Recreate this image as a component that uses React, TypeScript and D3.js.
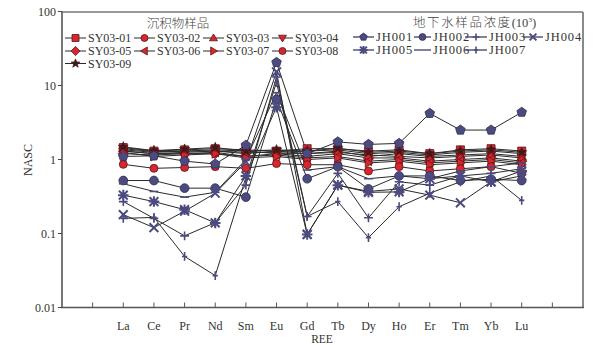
import React from "react";
import * as d3 from "d3";

const elements = ["La", "Ce", "Pr", "Nd", "Sm", "Eu", "Gd", "Tb", "Dy", "Ho", "Er", "Tm", "Yb", "Lu"];
const yTickValues = [0.01, 0.1, 1, 10, 100];
const yTickLabels = ["0.01", "0.1", "1", "10", "100"];

const syNames = ["SY03-01", "SY03-02", "SY03-03", "SY03-04", "SY03-05", "SY03-06", "SY03-07", "SY03-08", "SY03-09"];
const syMarkers = ["square", "circle", "triUp", "triDown", "diamond", "triLeft", "triRight", "circle", "star"];
const sy01 = [1.45, 1.3, 1.35, 1.4, 1.35, 1.3, 1.4, 1.4, 1.3, 1.35, 1.2, 1.35, 1.4, 1.3];
const sy02 = [1.35, 1.25, 1.3, 1.3, 1.25, 1.25, 1.3, 1.35, 1.2, 1.25, 1.15, 1.25, 1.3, 1.2];
const sy03 = [1.4, 1.28, 1.3, 1.35, 1.3, 1.2, 1.2, 1.3, 1.1, 1.2, 1.1, 1.15, 1.2, 1.1];
const sy04 = [1.3, 1.2, 1.25, 1.3, 1.2, 1.3, 1.2, 1.25, 1.15, 1.1, 1.05, 1.1, 1.15, 1.05];
const sy05 = [1.2, 1.15, 1.2, 1.2, 1.1, 1.2, 1.1, 1.2, 1.05, 1.05, 0.95, 1.0, 1.05, 0.95];
const sy06 = [1.3, 1.2, 1.2, 1.25, 1.1, 1.15, 1.05, 1.1, 0.95, 1.0, 0.9, 0.95, 1.0, 0.9];
const sy07 = [1.25, 1.1, 1.15, 1.2, 1.05, 1.1, 1.0, 1.05, 0.9, 0.95, 0.85, 0.9, 0.95, 0.85];
const sy08 = [0.86, 0.76, 0.78, 0.8, 0.76, 0.88, 0.85, 0.85, 0.7, 0.8, 0.7, 0.75, 0.8, 0.65];
const sy09 = [1.48, 1.32, 1.38, 1.45, 1.3, 1.35, 1.3, 1.42, 1.25, 1.3, 1.2, 1.3, 1.35, 1.25];
const syValues = [sy01, sy02, sy03, sy04, sy05, sy06, sy07, sy08, sy09];

const jhNames = ["JH001", "JH002", "JH003", "JH004", "JH005", "JH006", "JH007"];
const jhMarkers = ["pentagon", "circle", "plus", "x", "asterisk", "dash", "tick"];
const jh001 = [1.1, 1.12, 0.95, 0.87, 1.56, 20.5, 1.2, 1.73, 1.6, 1.65, 4.2, 2.5, 2.5, 4.35];
const jh002 = [0.52, 0.52, 0.41, 0.41, 0.31, 6.5, 0.55, 0.8, 0.4, 0.6, 0.6, 0.52, 0.54, 0.52];
const jh003 = [0.27, 0.16, 0.093, 0.14, 0.45, 13, 0.17, 0.65, 0.163, 0.5, 0.45, 0.6, 0.65, 0.75];
const jh004 = [0.18, 0.12, 0.2, 0.35, 0.93, 15.3, 0.097, 0.45, 0.37, 0.4, 0.33, 0.26, 0.5, 0.6];
const jh005 = [0.33, 0.27, 0.21, 0.139, 0.6, 5.1, 0.097, 0.45, 0.36, 0.365, 0.55, 0.6, 0.5, 0.7];
const jh006 = [0.47, 0.37, 0.31, 0.36, 1.0, 8, 0.72, 0.8, 0.55, 0.6, 0.55, 0.7, 0.8, 0.9];
const jh007 = [0.16, 0.165, 0.049, 0.027, 0.57, 11, 0.17, 0.27, 0.088, 0.23, 0.35, 0.5, 0.6, 0.28];
const jhValues = [jh001, jh002, jh003, jh004, jh005, jh006, jh007];

const RED = "#d8262e";
const RED_STROKE = "#5a1518";
const BLUE = "#4c4b80";
const BLUE_STROKE = "#2e2d58";
const LINE = "#2a2a2a";
const SERIF = "Liberation Serif, Times New Roman, Times, DejaVu Serif, serif";
const CJK = "Noto Sans CJK SC, sans-serif";

function poly(pts: [number, number][]) {
  return "M" + pts.map((p) => p[0].toFixed(2) + "," + p[1].toFixed(2)).join("L") + "Z";
}

function markerPath(kind: string, r: number): string {
  switch (kind) {
    case "square":
      return poly([[-r, -r], [r, -r], [r, r], [-r, r]]);
    case "circle":
      return `M${r},0A${r},${r} 0 1,1 ${-r},0A${r},${r} 0 1,1 ${r},0Z`;
    case "triUp":
      return poly([[0, -r * 1.15], [r * 1.15, r * 0.8], [-r * 1.15, r * 0.8]]);
    case "triDown":
      return poly([[0, r * 1.15], [r * 1.15, -r * 0.8], [-r * 1.15, -r * 0.8]]);
    case "triLeft":
      return poly([[-r * 1.15, 0], [r * 0.8, -r * 1.15], [r * 0.8, r * 1.15]]);
    case "triRight":
      return poly([[r * 1.15, 0], [-r * 0.8, -r * 1.15], [-r * 0.8, r * 1.15]]);
    case "diamond":
      return poly([[0, -r * 1.3], [r * 1.3, 0], [0, r * 1.3], [-r * 1.3, 0]]);
    case "pentagon": {
      const pts: [number, number][] = d3.range(5).map((i) => {
        const a = -Math.PI / 2 + (i * 2 * Math.PI) / 5;
        return [Math.cos(a) * r * 1.15, Math.sin(a) * r * 1.15];
      });
      return poly(pts);
    }
    case "star": {
      const pts: [number, number][] = d3.range(10).map((i) => {
        const a = -Math.PI / 2 + (i * Math.PI) / 5;
        const rr = i % 2 === 0 ? r * 1.3 : r * 0.55;
        return [Math.cos(a) * rr, Math.sin(a) * rr];
      });
      return poly(pts);
    }
    case "plus":
      return `M${-r},0L${r},0M0,${-r}L0,${r}`;
    case "tick":
      return `M${-r * 0.6},0L${r * 0.6},0M0,${-r}L0,${r}`;
    case "x":
      return `M${-r},${-r}L${r},${r}M${-r},${r}L${r},${-r}`;
    case "asterisk":
      return `M${-r},${-r}L${r},${r}M${-r},${r}L${r},${-r}M${-r * 1.2},0L${r * 1.2},0M0,${-r * 1.2}L0,${r * 1.2}`;
    case "dash":
      return `M${-r},0L${r},0`;
    default:
      return "";
  }
}

const isStroked = (k: string) => ["plus", "tick", "x", "asterisk", "dash"].includes(k);

function Marker({ kind, x, y, r, red, dark }: { kind: string; x: number; y: number; r: number; red: boolean; dark?: boolean }) {
  const d = markerPath(kind, r);
  if (isStroked(kind)) {
    return <path d={d} transform={`translate(${x},${y})`} fill="none" stroke={BLUE} strokeWidth={kind === "asterisk" || kind === "x" ? 2 : 1.6} />;
  }
  const fill = red ? (dark ? "#3a1c1c" : RED) : BLUE;
  const stroke = red ? RED_STROKE : BLUE_STROKE;
  return <path d={d} transform={`translate(${x},${y})`} fill={fill} stroke={stroke} strokeWidth={0.8} />;
}

export default function App() {
  const W = 614;
  const H = 345;
  const x = d3.scaleLinear().domain([0, 17]).range([62, 583]);
  const y = d3.scaleLog().domain([0.01, 100]).range([307.5, 11.5]);
  const line = d3
    .line<number>()
    .x((_, i) => x(i + 2))
    .y((v) => y(v));

  const leftCols = [65, 134, 203, 272];
  const leftRows = [38, 51, 63.5];
  const rightCols = [353, 414, 465, 523];
  const rightColsText = [376, 433, 489, 545];
  const rightRows = [37, 50];
  const tStyle = { fontFamily: SERIF };
  const cStyle = { fontFamily: CJK };

  return (
    <svg width={W} height={H} style={{ position: "absolute", left: 0, top: 0, background: "#fff" }}>
      <rect x={0} y={0} width={W} height={H} fill="#fff" />
      {/* frame */}
      <line x1={62} y1={12} x2={583} y2={12} stroke="#333" strokeWidth={1} />
      <line x1={583} y1={12} x2={583} y2={307.5} stroke="#8a8a8a" strokeWidth={2} />
      <line x1={62} y1={11.5} x2={62} y2={308} stroke="#555" strokeWidth={1.6} />
      <line x1={61} y1={307.5} x2={584} y2={307.5} stroke="#555" strokeWidth={1.6} />

      {/* y ticks */}
      {yTickValues.map((v, i) => (
        <g key={"yt" + i}>
          <line x1={58} x2={62} y1={y(v)} y2={y(v)} stroke="#444" strokeWidth={1} />
          <text x={56} y={y(v)} dy="0.35em" textAnchor="end" fontSize={12} fill="#333" style={tStyle}>
            {yTickLabels[i]}
          </text>
        </g>
      ))}
      {/* x ticks */}
      {d3.range(1, 17).map((k) => (
        <line key={"xt" + k} x1={x(k)} x2={x(k)} y1={307.5} y2={302.5} stroke="#555" strokeWidth={1} />
      ))}
      {elements.map((e, i) => (
        <text key={"xl" + e} x={x(i + 2)} y={330} textAnchor="middle" fontSize={12} fill="#333" style={tStyle}>
          {e}
        </text>
      ))}
      <text x={322} y={343} textAnchor="middle" fontSize={11.5} fill="#333" style={tStyle}>
        REE
      </text>
      <text transform="translate(32,160) rotate(-90)" textAnchor="middle" fontSize={12} fill="#333" style={tStyle}>
        NASC
      </text>

      {/* lines */}
      {syValues.map((vals, i) => (
        <path key={"syl" + i} d={line(vals) || ""} fill="none" stroke={LINE} strokeWidth={1} />
      ))}
      {jhValues.map((vals, i) => (
        <path key={"jhl" + i} d={line(vals) || ""} fill="none" stroke={LINE} strokeWidth={1} />
      ))}
      {/* markers */}
      {syValues.map((vals, i) =>
        vals.map((v, j) => (
          <Marker key={"sym" + i + "-" + j} kind={syMarkers[i]} x={x(j + 2)} y={y(v)} r={4} red={true} dark={syMarkers[i] === "star"} />
        ))
      )}
      {jhValues.map((vals, i) =>
        vals.map((v, j) => <Marker key={"jhm" + i + "-" + j} kind={jhMarkers[i]} x={x(j + 2)} y={y(v)} r={4.4} red={false} />)
      )}

      {/* left legend */}
      <text x={178} y={24} dy="0.35em" textAnchor="middle" fontSize={12.5} fill="#444" fontWeight={300} style={cStyle}>
        沉积物样品
      </text>
      {syNames.map((n, i) => {
        const cx = leftCols[i % 4];
        const cy = leftRows[Math.floor(i / 4)];
        return (
          <g key={"lgs" + i}>
            <line x1={cx} x2={cx + 21} y1={cy} y2={cy} stroke={LINE} strokeWidth={1} />
            <Marker kind={syMarkers[i]} x={cx + 10.5} y={cy} r={3.5} red={true} dark={syMarkers[i] === "star"} />
            <text x={cx + 23} y={cy} dy="0.35em" fontSize={12} fill="#333" style={tStyle}>
              {n}
            </text>
          </g>
        );
      })}

      {/* right legend */}
      <text x={413} y={23} dy="0.35em" fontSize={12.5} fill="#444" fontWeight={300} letterSpacing={1.6} style={cStyle}>
        地下水样品浓度
        <tspan style={tStyle} letterSpacing={0}>(10</tspan>
        <tspan style={tStyle} fontSize={7} dy="-5" letterSpacing={0}>3</tspan>
        <tspan style={tStyle} dy="5" letterSpacing={0}>)</tspan>
      </text>
      {jhNames.map((n, i) => {
        const cx = rightCols[i % 4];
        const cy = rightRows[Math.floor(i / 4)];
        const tx = rightColsText[i % 4];
        return (
          <g key={"lgj" + i}>
            <line x1={cx} x2={tx - 2} y1={cy} y2={cy} stroke={BLUE_STROKE} strokeWidth={1.2} />
            {jhMarkers[i] !== "dash" && <Marker kind={jhMarkers[i]} x={(cx + tx - 2) / 2} y={cy} r={3.4} red={false} />}
            <text x={tx} y={cy} dy="0.35em" fontSize={12.5} fill="#333" letterSpacing={0.9} style={tStyle}>
              {n}
            </text>
          </g>
        );
      })}
    </svg>
  );
}
